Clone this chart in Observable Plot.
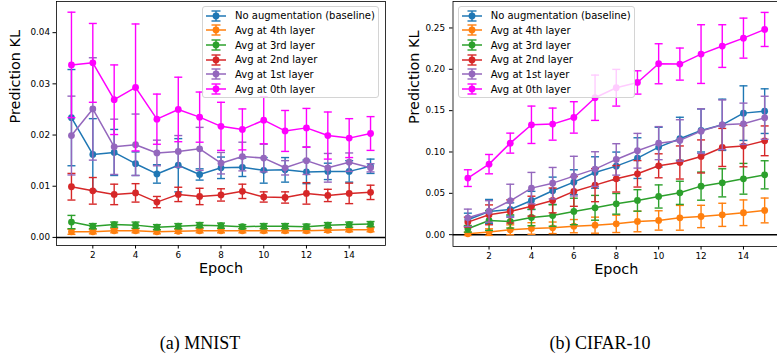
<!DOCTYPE html>
<html><head><meta charset="utf-8">
<script src="https://cdn.jsdelivr.net/npm/d3@7"></script>
<script src="https://cdn.jsdelivr.net/npm/@observablehq/plot@0.6"></script>
<style>
html,body{margin:0;padding:0;background:#fff;width:777px;height:358px;overflow:hidden;}
#root{position:relative;width:777px;height:358px;overflow:hidden;}
.panel{position:absolute;top:0;}
.legend{position:absolute;background:rgba(255,255,255,0.8);border:1px solid #d4d4d4;border-radius:3px;box-sizing:border-box;font-family:"DejaVu Sans";font-size:10px;color:#000;}
.legend .row{position:absolute;left:2px;height:14px;display:flex;align-items:center;white-space:nowrap;}
.legend .row svg{margin-right:8px;}
.caption{position:absolute;top:334px;width:240px;text-align:center;font-family:"Liberation Serif";font-size:18px;line-height:18px;color:#000;}
</style></head>
<body><div id="root"></div>
<script>
const epochs = [1,2,3,4,5,6,7,8,9,10,11,12,13,14,15];
const xTicks = [2,4,6,8,10,12,14];
const seriesNames = ["No augmentation (baseline)","Avg at 4th layer","Avg at 3rd layer","Avg at 2nd layer","Avg at 1st layer","Avg at 0th layer"];
const seriesColors = ["#1f77b4","#ff7f0e","#2ca02c","#d62728","#9467bd","#ff00ff"];

// MNIST
const mnistBaseline    = [0.0234,0.0162,0.0166,0.0144,0.0124,0.0141,0.0123,0.0136,0.0137,0.0131,0.0132,0.0128,0.0129,0.0129,0.0139];
const mnistBaselineErr = [0.0094,0.0070,0.0045,0.0023,0.0018,0.0052,0.0011,0.0021,0.0018,0.0025,0.0024,0.0023,0.0016,0.0021,0.0014];
const mnist4th    = [0.0011,0.0011,0.0013,0.0013,0.0011,0.0012,0.0013,0.0013,0.0013,0.0013,0.0013,0.0013,0.0014,0.0015,0.0015];
const mnist4thErr = [0.0005,0.0004,0.0004,0.0004,0.0004,0.0004,0.0004,0.0004,0.0004,0.0004,0.0004,0.0004,0.0004,0.0004,0.0004];
const mnist3rd    = [0.0030,0.0022,0.0025,0.0024,0.0020,0.0022,0.0024,0.0023,0.0021,0.0022,0.0022,0.0021,0.0024,0.0025,0.0026];
const mnist3rdErr = [0.0013,0.0005,0.0005,0.0006,0.0005,0.0005,0.0005,0.0005,0.0004,0.0005,0.0005,0.0005,0.0005,0.0005,0.0005];
const mnist2nd    = [0.0099,0.0091,0.0084,0.0087,0.0069,0.0084,0.0080,0.0083,0.0090,0.0079,0.0078,0.0086,0.0082,0.0086,0.0088];
const mnist2ndErr = [0.0026,0.0026,0.0020,0.0018,0.0011,0.0014,0.0016,0.0012,0.0014,0.0010,0.0011,0.0021,0.0012,0.0020,0.0014];
const mnist1st    = [0.0199,0.0251,0.0177,0.0181,0.0165,0.0168,0.0173,0.0145,0.0158,0.0155,0.0136,0.0150,0.0136,0.0147,0.0136];
const mnist1stErr = [0.0077,0.0100,0.0054,0.0060,0.0025,0.0031,0.0042,0.0021,0.0028,0.0027,0.0014,0.0027,0.0028,0.0018,0.0008];
const mnist0th    = [0.0337,0.0341,0.0269,0.0293,0.0231,0.0250,0.0235,0.0217,0.0211,0.0229,0.0208,0.0214,0.0199,0.0194,0.0203];
const mnist0thErr = [0.0103,0.0077,0.0068,0.0124,0.0049,0.0063,0.0049,0.0047,0.0040,0.0046,0.0040,0.0038,0.0046,0.0038,0.0033];
const mnistTicks = [0,0.01,0.02,0.03,0.04];

// CIFAR-10
const cifarBaseline    = [0.0180,0.0281,0.0305,0.0414,0.0531,0.0635,0.0752,0.0829,0.0926,0.1059,0.1160,0.1260,0.1329,0.1470,0.1494];
const cifarBaselineErr = [0.0080,0.0145,0.0080,0.0110,0.0165,0.0150,0.0190,0.0170,0.0246,0.0240,0.0260,0.0260,0.0310,0.0330,0.0270];
const cifar4th    = [0.0010,0.0031,0.0059,0.0075,0.0083,0.0103,0.0115,0.0131,0.0160,0.0172,0.0204,0.0220,0.0240,0.0265,0.0293];
const cifar4thErr = [0.0020,0.0040,0.0060,0.0070,0.0070,0.0080,0.0097,0.0105,0.0125,0.0117,0.0150,0.0135,0.0140,0.0155,0.0150];
const cifar3rd    = [0.0071,0.0172,0.0160,0.0208,0.0232,0.0281,0.0325,0.0373,0.0414,0.0462,0.0506,0.0587,0.0627,0.0676,0.0724];
const cifar3rdErr = [0.0040,0.0120,0.0080,0.0100,0.0130,0.0160,0.0150,0.0125,0.0130,0.0140,0.0140,0.0170,0.0170,0.0186,0.0170];
const cifar2nd    = [0.0152,0.0240,0.0281,0.0345,0.0414,0.0523,0.0599,0.0676,0.0736,0.0833,0.0873,0.0946,0.1055,0.1071,0.1135];
const cifar2ndErr = [0.0060,0.0120,0.0140,0.0120,0.0150,0.0180,0.0200,0.0160,0.0160,0.0145,0.0200,0.0200,0.0230,0.0250,0.0180];
const cifar1st    = [0.0204,0.0281,0.0410,0.0563,0.0623,0.0708,0.0793,0.0910,0.1015,0.1107,0.1140,0.1252,0.1329,0.1341,0.1414];
const cifar1stErr = [0.0105,0.0130,0.0200,0.0190,0.0190,0.0240,0.0210,0.0190,0.0210,0.0200,0.0250,0.0270,0.0300,0.0250,0.0260];
const cifar0th    = [0.0684,0.0853,0.1107,0.1329,0.1337,0.1418,0.1656,0.1777,0.1841,0.2067,0.2063,0.2184,0.2281,0.2377,0.2482];
const cifar0thErr = [0.0101,0.0117,0.0121,0.0226,0.0194,0.0190,0.0274,0.0222,0.0141,0.0242,0.0194,0.0355,0.0258,0.0242,0.0206];
const cifarTicks = [0,0.05,0.10,0.15,0.20,0.25];

const capSymbol = {draw(ctx, size){ const w = Math.sqrt(size/Math.PI); ctx.moveTo(-w,0); ctx.lineTo(w,0); }};

function makePanel(means, errs, cfg){
  const marks = [
    Plot.frame({stroke:"#000", strokeWidth:0.8}),
    Plot.ruleY([0], {stroke:"#000", strokeWidth:1.5})
  ];
  means.forEach((m, i) => {
    const rows = epochs.map((e, j) => ({epoch:e, m:m[j], e:errs[i][j]}));
    const c = seriesColors[i];
    marks.push(
      Plot.ruleX(rows, {x:"epoch", y1:d=>d.m-d.e, y2:d=>d.m+d.e, stroke:c, strokeWidth:1.4}),
      Plot.dot(rows, {x:"epoch", y:d=>d.m+d.e, symbol:capSymbol, r:4, fill:"none", stroke:c, strokeWidth:1.4}),
      Plot.dot(rows, {x:"epoch", y:d=>d.m-d.e, symbol:capSymbol, r:4, fill:"none", stroke:c, strokeWidth:1.4}),
      Plot.line(rows, {x:"epoch", y:"m", stroke:c, strokeWidth:1.5}),
      Plot.dot(rows, {x:"epoch", y:"m", fill:c, r:3.4})
    );
  });
  marks.push(
    Plot.axisX({ticks:xTicks, tickSize:3.5, tickPadding:3, fontSize:8.8, label:null}),
    Plot.axisY({ticks:cfg.yTicks, tickFormat:d3.format(".2f"), tickSize:3.5, tickPadding:cfg.tickPad, fontSize:8.8, label:null}),
    Plot.text(["Prediction KL"], {text:d=>d, frameAnchor:"left", dx:cfg.labelDx, rotate:-90, fontSize:14.4, fill:"#000"}),
    Plot.text(["Epoch"], {text:d=>d, frameAnchor:"bottom", dy:27, fontSize:14.4, fill:"#000"})
  );
  return Plot.plot({
    width: 390, height: 285,
    marginLeft: cfg.ml, marginRight: cfg.mr, marginTop: 1, marginBottom: cfg.mb,
    x: {domain:[0.3, 15.7]},
    y: {domain: cfg.yDomain},
    style: {fontFamily:"DejaVu Sans", fontSize:"8.8px", background:"transparent", color:"#000"},
    marks
  });
}

function makeLegend(left){
  const lg = document.createElement("div");
  lg.className = "legend";
  Object.assign(lg.style, {left:left+"px", top:"5.7px", width:"177px", height:"92.6px"});
  seriesNames.forEach((name, i) => {
    const c = seriesColors[i];
    const row = document.createElement("div");
    row.className = "row";
    row.style.top = (2 + i*14.67) + "px";
    row.innerHTML = `<svg width="22" height="14" style="overflow:visible"><line x1="1" x2="21" y1="7" y2="7" stroke="${c}" stroke-width="1.5"/><line x1="11" x2="11" y1="2" y2="12" stroke="${c}" stroke-width="1.4"/><line x1="6.5" x2="15.5" y1="2" y2="2" stroke="${c}" stroke-width="1.4"/><line x1="6.5" x2="15.5" y1="12" y2="12" stroke="${c}" stroke-width="1.4"/><circle cx="11" cy="7" r="3.4" fill="${c}"/></svg><span>${name}</span>`;
    lg.appendChild(row);
  });
  return lg;
}

const root = document.getElementById("root");
const left = makePanel([mnistBaseline,mnist4th,mnist3rd,mnist2nd,mnist1st,mnist0th],
  [mnistBaselineErr,mnist4thErr,mnist3rdErr,mnist2ndErr,mnist1stErr,mnist0thErr],
  {yDomain:[-0.00158,0.04609], yTicks:mnistTicks, ml:56, mr:5, mb:40, labelDx:-41, tickPad:3});
left.classList.add("panel"); left.style.left = "0px";
root.appendChild(left);

const right = makePanel([cifarBaseline,cifar4th,cifar3rd,cifar2nd,cifar1st,cifar0th],
  [cifarBaselineErr,cifar4thErr,cifar3rdErr,cifar2ndErr,cifar1stErr,cifar0thErr],
  {yDomain:[-0.0143,0.282], yTicks:cifarTicks, ml:62.5, mr:1, mb:39, labelDx:-39, tickPad:4.5});
right.classList.add("panel"); right.style.left = "390px";
root.appendChild(right);

root.appendChild(makeLegend(202));
root.appendChild(makeLegend(457.7));

const capA = document.createElement("div"); capA.className = "caption"; capA.style.left = "80px"; capA.textContent = "(a) MNIST";
const capB = document.createElement("div"); capB.className = "caption"; capB.style.left = "480px"; capB.textContent = "(b) CIFAR-10";
root.appendChild(capA); root.appendChild(capB);
</script></body></html>
